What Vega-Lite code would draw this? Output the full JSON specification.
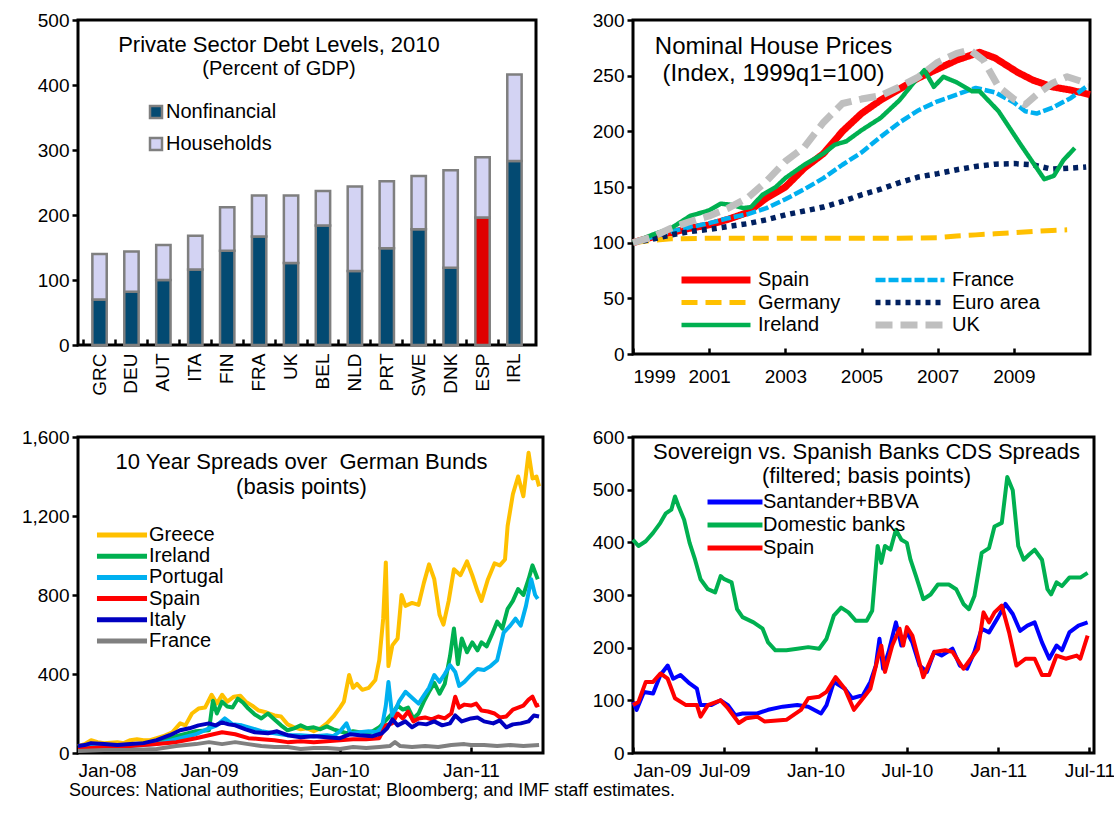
{
"$schema": "https://vega.github.io/schema/vega-lite/v6.json",
"background": "white",
"padding": {"left": 19, "top": 9, "right": 0, "bottom": 5},
"config": {
  "font": "Liberation Sans",
  "view": {"stroke": "black", "strokeWidth": 3},
  "axis": {"grid": false, "domain": false, "labelFontSize": 19, "labelColor": "black", "tickColor": "black", "tickWidth": 2.5, "tickSize": 6, "labelPadding": 3, "title": null, "labelFont": "Liberation Sans"},
  "legend": {"labelFontSize": 20, "labelColor": "black", "labelFont": "Liberation Sans", "orient": "none", "title": null, "padding": 0},
  "title": {"font": "Liberation Sans", "subtitleFont": "Liberation Sans", "color": "black", "subtitleColor": "black", "fontWeight": "normal", "subtitleFontWeight": "normal", "frame": "group"},
  "line": {"strokeJoin": "round"}
},
"title": {"text": "Sources:  National authorities; Eurostat; Bloomberg; and IMF staff estimates.", "orient": "bottom", "anchor": "start", "frame": "bounds", "fontSize": 18, "offset": 0, "dx": 49},
"columns": 2,
"bounds": "flush",
"spacing": {"row": 83, "column": 90},
"resolve": {"scale": {"color": "independent", "fill": "independent", "strokeDash": "independent", "strokeWidth": "independent", "x": "independent", "y": "independent"}},
"concat": [
{
  "width": 458, "height": 325,
  "title": {"text": "Private Sector Debt Levels, 2010", "subtitle": "(Percent of GDP)", "fontSize": 22, "subtitleFontSize": 20, "subtitlePadding": 2, "anchor": "middle", "dx": -28, "offset": -69},
  "data": {"values": [
    {"c": "GRC", "part": "Nonfinancial", "v": 70}, {"c": "GRC", "part": "Households", "v": 70},
    {"c": "DEU", "part": "Nonfinancial", "v": 82}, {"c": "DEU", "part": "Households", "v": 62},
    {"c": "AUT", "part": "Nonfinancial", "v": 100}, {"c": "AUT", "part": "Households", "v": 54},
    {"c": "ITA", "part": "Nonfinancial", "v": 116}, {"c": "ITA", "part": "Households", "v": 52},
    {"c": "FIN", "part": "Nonfinancial", "v": 145}, {"c": "FIN", "part": "Households", "v": 67},
    {"c": "FRA", "part": "Nonfinancial", "v": 167}, {"c": "FRA", "part": "Households", "v": 63},
    {"c": "UK", "part": "Nonfinancial", "v": 126}, {"c": "UK", "part": "Households", "v": 104},
    {"c": "BEL", "part": "Nonfinancial", "v": 184}, {"c": "BEL", "part": "Households", "v": 53},
    {"c": "NLD", "part": "Nonfinancial", "v": 114}, {"c": "NLD", "part": "Households", "v": 130},
    {"c": "PRT", "part": "Nonfinancial", "v": 149}, {"c": "PRT", "part": "Households", "v": 103},
    {"c": "SWE", "part": "Nonfinancial", "v": 178}, {"c": "SWE", "part": "Households", "v": 82},
    {"c": "DNK", "part": "Nonfinancial", "v": 119}, {"c": "DNK", "part": "Households", "v": 150},
    {"c": "ESP", "part": "Nonfinancial", "v": 196}, {"c": "ESP", "part": "Households", "v": 93},
    {"c": "IRL", "part": "Nonfinancial", "v": 283}, {"c": "IRL", "part": "Households", "v": 133}
  ]},
  "mark": {"type": "bar", "stroke": "#7f7f7f", "strokeWidth": 2.5},
  "encoding": {
    "x": {"field": "c", "type": "nominal", "sort": null, "scale": {"paddingInner": 0.55, "paddingOuter": 0.45}, "axis": {"labelAngle": 270, "tickSize": -6, "labelPadding": 14, "bandPosition": -0.61}},
    "y": {"field": "v", "type": "quantitative", "stack": "zero", "scale": {"domain": [0, 500], "nice": false}, "axis": {"values": [0, 100, 200, 300, 400, 500]}},
    "fill": {"field": "part", "type": "nominal", "condition": {"test": "datum.c === 'ESP' && datum.part === 'Nonfinancial'", "value": "#e00000"}, "scale": {"domain": ["Nonfinancial", "Households"], "range": ["#034a72", "#d3d3f3"]}, "legend": {"symbolType": "square", "symbolSize": 144, "symbolStrokeColor": "#7f7f7f", "symbolStrokeWidth": 2.5, "labelOffset": 0, "rowPadding": 10, "legendX": 68, "legendY": 82}},
    "order": {"field": "part", "sort": "descending"}
  }
},
{
  "width": 457, "height": 334,
  "title": {"text": "Nominal House Prices", "subtitle": "(Index, 1999q1=100)", "fontSize": 24, "subtitleFontSize": 24, "subtitlePadding": 3, "anchor": "middle", "dx": -88, "offset": -75},
  "data": {"values": [
    {"s":"Spain","t":1999,"v":100},{"s":"Spain","t":1999.5,"v":105},{"s":"Spain","t":2000,"v":109},{"s":"Spain","t":2000.5,"v":113},{"s":"Spain","t":2001,"v":116},{"s":"Spain","t":2001.5,"v":121},{"s":"Spain","t":2002,"v":127},{"s":"Spain","t":2002.5,"v":140},{"s":"Spain","t":2003,"v":150},{"s":"Spain","t":2003.5,"v":167},{"s":"Spain","t":2004,"v":180},{"s":"Spain","t":2004.5,"v":200},{"s":"Spain","t":2005,"v":216},{"s":"Spain","t":2005.5,"v":228},{"s":"Spain","t":2006,"v":238},{"s":"Spain","t":2006.5,"v":248},{"s":"Spain","t":2007,"v":256},{"s":"Spain","t":2007.5,"v":264},{"s":"Spain","t":2008.1,"v":271},{"s":"Spain","t":2008.5,"v":266},{"s":"Spain","t":2009.1,"v":253},{"s":"Spain","t":2009.5,"v":246},{"s":"Spain","t":2010,"v":240},{"s":"Spain","t":2010.5,"v":237},{"s":"Spain","t":2011,"v":233},
    {"s":"France","t":1999,"v":100},{"s":"France","t":1999.5,"v":105},{"s":"France","t":2000,"v":110},{"s":"France","t":2000.5,"v":114},{"s":"France","t":2001,"v":117.5},{"s":"France","t":2001.5,"v":122},{"s":"France","t":2002,"v":125.5},{"s":"France","t":2002.5,"v":131},{"s":"France","t":2003,"v":139},{"s":"France","t":2003.5,"v":148},{"s":"France","t":2004,"v":158},{"s":"France","t":2004.5,"v":170},{"s":"France","t":2005,"v":181},{"s":"France","t":2005.5,"v":195},{"s":"France","t":2006,"v":208},{"s":"France","t":2006.5,"v":219},{"s":"France","t":2007,"v":227},{"s":"France","t":2007.5,"v":233},{"s":"France","t":2008,"v":239},{"s":"France","t":2008.5,"v":235},{"s":"France","t":2009,"v":226},{"s":"France","t":2009.3,"v":218},{"s":"France","t":2009.6,"v":216},{"s":"France","t":2010,"v":221},{"s":"France","t":2010.5,"v":230},{"s":"France","t":2010.9,"v":240},
    {"s":"Germany","t":1999,"v":100},{"s":"Germany","t":1999.5,"v":102},{"s":"Germany","t":2000,"v":103.5},{"s":"Germany","t":2001,"v":104},{"s":"Germany","t":2002,"v":104},{"s":"Germany","t":2003,"v":104},{"s":"Germany","t":2004,"v":104},{"s":"Germany","t":2005,"v":104},{"s":"Germany","t":2006,"v":104},{"s":"Germany","t":2007,"v":104.5},{"s":"Germany","t":2007.5,"v":106},{"s":"Germany","t":2008,"v":107},{"s":"Germany","t":2008.5,"v":108},{"s":"Germany","t":2009,"v":109},{"s":"Germany","t":2009.5,"v":110},{"s":"Germany","t":2010,"v":111},{"s":"Germany","t":2010.4,"v":111.5},
    {"s":"Euro area","t":1999,"v":100},{"s":"Euro area","t":1999.5,"v":103},{"s":"Euro area","t":2000,"v":107},{"s":"Euro area","t":2000.5,"v":110},{"s":"Euro area","t":2001,"v":112},{"s":"Euro area","t":2001.5,"v":114.5},{"s":"Euro area","t":2002,"v":117},{"s":"Euro area","t":2002.5,"v":120.5},{"s":"Euro area","t":2003,"v":125},{"s":"Euro area","t":2003.5,"v":128.5},{"s":"Euro area","t":2004,"v":132},{"s":"Euro area","t":2004.5,"v":137},{"s":"Euro area","t":2005,"v":143},{"s":"Euro area","t":2005.5,"v":148},{"s":"Euro area","t":2006,"v":154},{"s":"Euro area","t":2006.5,"v":159},{"s":"Euro area","t":2007,"v":162},{"s":"Euro area","t":2007.5,"v":165.5},{"s":"Euro area","t":2008,"v":168.5},{"s":"Euro area","t":2008.5,"v":170.5},{"s":"Euro area","t":2009,"v":171},{"s":"Euro area","t":2009.5,"v":170},{"s":"Euro area","t":2010,"v":166},{"s":"Euro area","t":2010.5,"v":167},{"s":"Euro area","t":2010.9,"v":168},
    {"s":"Ireland","t":1999,"v":100},{"s":"Ireland","t":1999.5,"v":107},{"s":"Ireland","t":2000,"v":113},{"s":"Ireland","t":2000.5,"v":124},{"s":"Ireland","t":2001,"v":129},{"s":"Ireland","t":2001.3,"v":135},{"s":"Ireland","t":2001.6,"v":134},{"s":"Ireland","t":2001.9,"v":131},{"s":"Ireland","t":2002.1,"v":132},{"s":"Ireland","t":2002.4,"v":143},{"s":"Ireland","t":2002.75,"v":150},{"s":"Ireland","t":2003,"v":158},{"s":"Ireland","t":2003.5,"v":170},{"s":"Ireland","t":2004,"v":180},{"s":"Ireland","t":2004.3,"v":188},{"s":"Ireland","t":2004.6,"v":191},{"s":"Ireland","t":2005,"v":201},{"s":"Ireland","t":2005.5,"v":212},{"s":"Ireland","t":2006,"v":228},{"s":"Ireland","t":2006.4,"v":245},{"s":"Ireland","t":2006.65,"v":255},{"s":"Ireland","t":2006.9,"v":240},{"s":"Ireland","t":2007.15,"v":249},{"s":"Ireland","t":2007.5,"v":244},{"s":"Ireland","t":2007.9,"v":236},{"s":"Ireland","t":2008.1,"v":236},{"s":"Ireland","t":2008.6,"v":218},{"s":"Ireland","t":2009.2,"v":187},{"s":"Ireland","t":2009.5,"v":172},{"s":"Ireland","t":2009.8,"v":157},{"s":"Ireland","t":2010.05,"v":160},{"s":"Ireland","t":2010.3,"v":174},{"s":"Ireland","t":2010.6,"v":185},
    {"s":"UK","t":1999,"v":100},{"s":"UK","t":1999.5,"v":105},{"s":"UK","t":2000,"v":113},{"s":"UK","t":2000.5,"v":119},{"s":"UK","t":2001,"v":124},{"s":"UK","t":2001.5,"v":131},{"s":"UK","t":2002,"v":140},{"s":"UK","t":2002.5,"v":155},{"s":"UK","t":2003,"v":173},{"s":"UK","t":2003.5,"v":186},{"s":"UK","t":2004,"v":208},{"s":"UK","t":2004.5,"v":225},{"s":"UK","t":2005,"v":229},{"s":"UK","t":2005.5,"v":232},{"s":"UK","t":2006,"v":240},{"s":"UK","t":2006.5,"v":249},{"s":"UK","t":2007,"v":262},{"s":"UK","t":2007.5,"v":270},{"s":"UK","t":2007.85,"v":273},{"s":"UK","t":2008.2,"v":264},{"s":"UK","t":2008.6,"v":240},{"s":"UK","t":2009,"v":229},{"s":"UK","t":2009.3,"v":224},{"s":"UK","t":2009.6,"v":233},{"s":"UK","t":2010,"v":243},{"s":"UK","t":2010.4,"v":249},{"s":"UK","t":2010.95,"v":243}
  ]},
  "mark": {"type": "line"},
  "encoding": {
    "x": {"field": "t", "type": "quantitative", "scale": {"domain": [1999, 2011], "nice": false}, "axis": {"values": [1999, 2001, 2003, 2005, 2007, 2009], "format": "d", "tickSize": -6, "labelPadding": 19}},
    "y": {"field": "v", "type": "quantitative", "scale": {"domain": [0, 300], "nice": false}, "axis": {"values": [0, 50, 100, 150, 200, 250, 300]}},
    "color": {"field": "s", "type": "nominal", "sort": null, "scale": {"domain": ["Spain", "Germany", "Ireland", "France", "Euro area", "UK"], "range": ["#ff0000", "#ffc000", "#00b050", "#00b0f0", "#002060", "#bfbfbf"]}, "legend": {"columns": 2, "columnPadding": 31, "rowPadding": 2.5, "symbolType": "M-5.75,0H5.75", "symbolSize": 144, "labelOffset": 32, "legendX": 73, "legendY": 250}},
    "strokeDash": {"field": "s", "type": "nominal", "sort": null, "scale": {"domain": ["Spain", "Germany", "Ireland", "France", "Euro area", "UK"], "range": [[1, 0], [16, 8], [1, 0], [10, 3], [5, 5], [17, 8]]}},
    "strokeWidth": {"field": "s", "type": "nominal", "sort": null, "scale": {"type": "ordinal", "domain": ["Spain", "Germany", "Ireland", "France", "Euro area", "UK"], "range": [7, 5, 4.5, 4.5, 5.5, 7]}}
  }
},
{
  "width": 465, "height": 316,
  "title": {"text": "10 Year Spreads over \u00a0German Bunds", "subtitle": "(basis points)", "fontSize": 22, "subtitleFontSize": 22, "subtitlePadding": 3, "anchor": "middle", "dx": -9, "offset": -71},
  "data": {"values": [
    {"s":"Greece","t":2008.0,"v":35},{"s":"Greece","t":2008.05,"v":45},{"s":"Greece","t":2008.1,"v":65},{"s":"Greece","t":2008.15,"v":55},{"s":"Greece","t":2008.2,"v":50},{"s":"Greece","t":2008.3,"v":55},{"s":"Greece","t":2008.35,"v":50},{"s":"Greece","t":2008.4,"v":65},{"s":"Greece","t":2008.45,"v":70},{"s":"Greece","t":2008.5,"v":65},{"s":"Greece","t":2008.55,"v":65},{"s":"Greece","t":2008.6,"v":75},{"s":"Greece","t":2008.65,"v":85},{"s":"Greece","t":2008.72,"v":105},{"s":"Greece","t":2008.78,"v":150},{"s":"Greece","t":2008.82,"v":140},{"s":"Greece","t":2008.87,"v":200},{"s":"Greece","t":2008.92,"v":225},{"s":"Greece","t":2008.97,"v":230},{"s":"Greece","t":2009.02,"v":295},{"s":"Greece","t":2009.06,"v":250},{"s":"Greece","t":2009.1,"v":295},{"s":"Greece","t":2009.14,"v":260},{"s":"Greece","t":2009.19,"v":285},{"s":"Greece","t":2009.24,"v":290},{"s":"Greece","t":2009.28,"v":260},{"s":"Greece","t":2009.33,"v":240},{"s":"Greece","t":2009.38,"v":215},{"s":"Greece","t":2009.44,"v":205},{"s":"Greece","t":2009.5,"v":190},{"s":"Greece","t":2009.55,"v":185},{"s":"Greece","t":2009.6,"v":145},{"s":"Greece","t":2009.65,"v":130},{"s":"Greece","t":2009.7,"v":120},{"s":"Greece","t":2009.75,"v":125},{"s":"Greece","t":2009.8,"v":110},{"s":"Greece","t":2009.85,"v":125},{"s":"Greece","t":2009.9,"v":150},{"s":"Greece","t":2009.95,"v":185},{"s":"Greece","t":2010.0,"v":230},{"s":"Greece","t":2010.03,"v":260},{"s":"Greece","t":2010.07,"v":395},{"s":"Greece","t":2010.1,"v":330},{"s":"Greece","t":2010.13,"v":350},{"s":"Greece","t":2010.17,"v":320},{"s":"Greece","t":2010.22,"v":330},{"s":"Greece","t":2010.27,"v":370},{"s":"Greece","t":2010.3,"v":470},{"s":"Greece","t":2010.33,"v":680},{"s":"Greece","t":2010.35,"v":965},{"s":"Greece","t":2010.37,"v":440},{"s":"Greece","t":2010.4,"v":545},{"s":"Greece","t":2010.44,"v":580},{"s":"Greece","t":2010.47,"v":800},{"s":"Greece","t":2010.5,"v":745},{"s":"Greece","t":2010.55,"v":760},{"s":"Greece","t":2010.6,"v":750},{"s":"Greece","t":2010.64,"v":860},{"s":"Greece","t":2010.68,"v":955},{"s":"Greece","t":2010.72,"v":880},{"s":"Greece","t":2010.76,"v":700},{"s":"Greece","t":2010.79,"v":650},{"s":"Greece","t":2010.83,"v":770},{"s":"Greece","t":2010.87,"v":930},{"s":"Greece","t":2010.92,"v":900},{"s":"Greece","t":2010.97,"v":970},{"s":"Greece","t":2011.01,"v":900},{"s":"Greece","t":2011.05,"v":820},{"s":"Greece","t":2011.08,"v":770},{"s":"Greece","t":2011.13,"v":880},{"s":"Greece","t":2011.18,"v":960},{"s":"Greece","t":2011.22,"v":950},{"s":"Greece","t":2011.26,"v":980},{"s":"Greece","t":2011.28,"v":1150},{"s":"Greece","t":2011.32,"v":1310},{"s":"Greece","t":2011.36,"v":1400},{"s":"Greece","t":2011.4,"v":1300},{"s":"Greece","t":2011.44,"v":1520},{"s":"Greece","t":2011.47,"v":1390},{"s":"Greece","t":2011.5,"v":1400},{"s":"Greece","t":2011.52,"v":1350},
    {"s":"Ireland","t":2008.0,"v":30},{"s":"Ireland","t":2008.2,"v":35},{"s":"Ireland","t":2008.4,"v":40},{"s":"Ireland","t":2008.6,"v":55},{"s":"Ireland","t":2008.75,"v":85},{"s":"Ireland","t":2008.9,"v":110},{"s":"Ireland","t":2009.0,"v":115},{"s":"Ireland","t":2009.03,"v":265},{"s":"Ireland","t":2009.06,"v":200},{"s":"Ireland","t":2009.1,"v":260},{"s":"Ireland","t":2009.14,"v":235},{"s":"Ireland","t":2009.18,"v":230},{"s":"Ireland","t":2009.22,"v":275},{"s":"Ireland","t":2009.26,"v":255},{"s":"Ireland","t":2009.3,"v":225},{"s":"Ireland","t":2009.35,"v":195},{"s":"Ireland","t":2009.4,"v":175},{"s":"Ireland","t":2009.45,"v":200},{"s":"Ireland","t":2009.5,"v":170},{"s":"Ireland","t":2009.55,"v":140},{"s":"Ireland","t":2009.6,"v":115},{"s":"Ireland","t":2009.65,"v":125},{"s":"Ireland","t":2009.7,"v":140},{"s":"Ireland","t":2009.75,"v":125},{"s":"Ireland","t":2009.8,"v":130},{"s":"Ireland","t":2009.85,"v":120},{"s":"Ireland","t":2009.9,"v":135},{"s":"Ireland","t":2009.95,"v":120},{"s":"Ireland","t":2010.0,"v":110},{"s":"Ireland","t":2010.05,"v":100},{"s":"Ireland","t":2010.1,"v":110},{"s":"Ireland","t":2010.15,"v":105},{"s":"Ireland","t":2010.2,"v":100},{"s":"Ireland","t":2010.25,"v":110},{"s":"Ireland","t":2010.3,"v":130},{"s":"Ireland","t":2010.35,"v":165},{"s":"Ireland","t":2010.4,"v":200},{"s":"Ireland","t":2010.44,"v":240},{"s":"Ireland","t":2010.48,"v":220},{"s":"Ireland","t":2010.52,"v":230},{"s":"Ireland","t":2010.56,"v":175},{"s":"Ireland","t":2010.6,"v":200},{"s":"Ireland","t":2010.64,"v":260},{"s":"Ireland","t":2010.68,"v":310},{"s":"Ireland","t":2010.72,"v":355},{"s":"Ireland","t":2010.76,"v":300},{"s":"Ireland","t":2010.8,"v":350},{"s":"Ireland","t":2010.84,"v":490},{"s":"Ireland","t":2010.87,"v":630},{"s":"Ireland","t":2010.9,"v":450},{"s":"Ireland","t":2010.93,"v":580},{"s":"Ireland","t":2010.97,"v":510},{"s":"Ireland","t":2011.01,"v":560},{"s":"Ireland","t":2011.05,"v":520},{"s":"Ireland","t":2011.08,"v":560},{"s":"Ireland","t":2011.12,"v":540},{"s":"Ireland","t":2011.16,"v":600},{"s":"Ireland","t":2011.2,"v":665},{"s":"Ireland","t":2011.24,"v":630},{"s":"Ireland","t":2011.28,"v":730},{"s":"Ireland","t":2011.32,"v":770},{"s":"Ireland","t":2011.36,"v":830},{"s":"Ireland","t":2011.4,"v":800},{"s":"Ireland","t":2011.44,"v":880},{"s":"Ireland","t":2011.47,"v":950},{"s":"Ireland","t":2011.51,"v":880},
    {"s":"Portugal","t":2008.0,"v":30},{"s":"Portugal","t":2008.2,"v":35},{"s":"Portugal","t":2008.4,"v":35},{"s":"Portugal","t":2008.6,"v":45},{"s":"Portugal","t":2008.75,"v":70},{"s":"Portugal","t":2008.9,"v":95},{"s":"Portugal","t":2009.0,"v":125},{"s":"Portugal","t":2009.06,"v":140},{"s":"Portugal","t":2009.12,"v":175},{"s":"Portugal","t":2009.18,"v":145},{"s":"Portugal","t":2009.25,"v":140},{"s":"Portugal","t":2009.33,"v":125},{"s":"Portugal","t":2009.4,"v":110},{"s":"Portugal","t":2009.5,"v":100},{"s":"Portugal","t":2009.6,"v":90},{"s":"Portugal","t":2009.7,"v":90},{"s":"Portugal","t":2009.8,"v":85},{"s":"Portugal","t":2009.9,"v":90},{"s":"Portugal","t":2009.95,"v":85},{"s":"Portugal","t":2010.0,"v":110},{"s":"Portugal","t":2010.05,"v":150},{"s":"Portugal","t":2010.08,"v":100},{"s":"Portugal","t":2010.15,"v":105},{"s":"Portugal","t":2010.22,"v":110},{"s":"Portugal","t":2010.28,"v":105},{"s":"Portugal","t":2010.32,"v":130},{"s":"Portugal","t":2010.35,"v":240},{"s":"Portugal","t":2010.37,"v":360},{"s":"Portugal","t":2010.4,"v":180},{"s":"Portugal","t":2010.45,"v":260},{"s":"Portugal","t":2010.5,"v":310},{"s":"Portugal","t":2010.55,"v":280},{"s":"Portugal","t":2010.6,"v":250},{"s":"Portugal","t":2010.64,"v":290},{"s":"Portugal","t":2010.68,"v":330},{"s":"Portugal","t":2010.72,"v":395},{"s":"Portugal","t":2010.76,"v":360},{"s":"Portugal","t":2010.8,"v":400},{"s":"Portugal","t":2010.84,"v":445},{"s":"Portugal","t":2010.88,"v":410},{"s":"Portugal","t":2010.91,"v":340},{"s":"Portugal","t":2010.95,"v":360},{"s":"Portugal","t":2011.0,"v":395},{"s":"Portugal","t":2011.05,"v":425},{"s":"Portugal","t":2011.1,"v":420},{"s":"Portugal","t":2011.15,"v":440},{"s":"Portugal","t":2011.2,"v":470},{"s":"Portugal","t":2011.25,"v":610},{"s":"Portugal","t":2011.3,"v":645},{"s":"Portugal","t":2011.34,"v":680},{"s":"Portugal","t":2011.38,"v":645},{"s":"Portugal","t":2011.42,"v":745},{"s":"Portugal","t":2011.46,"v":880},{"s":"Portugal","t":2011.49,"v":800},{"s":"Portugal","t":2011.51,"v":780},
    {"s":"Spain","t":2008.0,"v":20},{"s":"Spain","t":2008.2,"v":30},{"s":"Spain","t":2008.4,"v":35},{"s":"Spain","t":2008.6,"v":45},{"s":"Spain","t":2008.75,"v":55},{"s":"Spain","t":2008.9,"v":75},{"s":"Spain","t":2009.0,"v":90},{"s":"Spain","t":2009.1,"v":105},{"s":"Spain","t":2009.2,"v":95},{"s":"Spain","t":2009.3,"v":75},{"s":"Spain","t":2009.4,"v":70},{"s":"Spain","t":2009.5,"v":65},{"s":"Spain","t":2009.6,"v":55},{"s":"Spain","t":2009.7,"v":60},{"s":"Spain","t":2009.8,"v":55},{"s":"Spain","t":2009.9,"v":60},{"s":"Spain","t":2010.0,"v":65},{"s":"Spain","t":2010.1,"v":70},{"s":"Spain","t":2010.2,"v":70},{"s":"Spain","t":2010.3,"v":75},{"s":"Spain","t":2010.35,"v":140},{"s":"Spain","t":2010.4,"v":150},{"s":"Spain","t":2010.44,"v":200},{"s":"Spain","t":2010.48,"v":175},{"s":"Spain","t":2010.52,"v":210},{"s":"Spain","t":2010.56,"v":160},{"s":"Spain","t":2010.6,"v":175},{"s":"Spain","t":2010.65,"v":180},{"s":"Spain","t":2010.7,"v":170},{"s":"Spain","t":2010.75,"v":185},{"s":"Spain","t":2010.8,"v":175},{"s":"Spain","t":2010.85,"v":200},{"s":"Spain","t":2010.88,"v":285},{"s":"Spain","t":2010.91,"v":230},{"s":"Spain","t":2010.95,"v":245},{"s":"Spain","t":2011.0,"v":240},{"s":"Spain","t":2011.04,"v":250},{"s":"Spain","t":2011.08,"v":215},{"s":"Spain","t":2011.13,"v":210},{"s":"Spain","t":2011.18,"v":200},{"s":"Spain","t":2011.22,"v":180},{"s":"Spain","t":2011.27,"v":185},{"s":"Spain","t":2011.32,"v":220},{"s":"Spain","t":2011.36,"v":230},{"s":"Spain","t":2011.4,"v":240},{"s":"Spain","t":2011.44,"v":270},{"s":"Spain","t":2011.47,"v":285},{"s":"Spain","t":2011.5,"v":240},{"s":"Spain","t":2011.52,"v":245},
    {"s":"Italy","t":2008.0,"v":35},{"s":"Italy","t":2008.05,"v":40},{"s":"Italy","t":2008.1,"v":50},{"s":"Italy","t":2008.2,"v":45},{"s":"Italy","t":2008.3,"v":40},{"s":"Italy","t":2008.4,"v":45},{"s":"Italy","t":2008.5,"v":50},{"s":"Italy","t":2008.6,"v":65},{"s":"Italy","t":2008.7,"v":90},{"s":"Italy","t":2008.78,"v":115},{"s":"Italy","t":2008.85,"v":125},{"s":"Italy","t":2008.92,"v":140},{"s":"Italy","t":2009.0,"v":150},{"s":"Italy","t":2009.05,"v":140},{"s":"Italy","t":2009.1,"v":155},{"s":"Italy","t":2009.15,"v":145},{"s":"Italy","t":2009.2,"v":140},{"s":"Italy","t":2009.28,"v":120},{"s":"Italy","t":2009.35,"v":105},{"s":"Italy","t":2009.45,"v":100},{"s":"Italy","t":2009.52,"v":110},{"s":"Italy","t":2009.6,"v":90},{"s":"Italy","t":2009.7,"v":80},{"s":"Italy","t":2009.8,"v":85},{"s":"Italy","t":2009.9,"v":80},{"s":"Italy","t":2010.0,"v":75},{"s":"Italy","t":2010.08,"v":95},{"s":"Italy","t":2010.15,"v":90},{"s":"Italy","t":2010.25,"v":85},{"s":"Italy","t":2010.32,"v":100},{"s":"Italy","t":2010.36,"v":125},{"s":"Italy","t":2010.4,"v":170},{"s":"Italy","t":2010.44,"v":140},{"s":"Italy","t":2010.5,"v":160},{"s":"Italy","t":2010.55,"v":130},{"s":"Italy","t":2010.6,"v":150},{"s":"Italy","t":2010.66,"v":145},{"s":"Italy","t":2010.72,"v":160},{"s":"Italy","t":2010.78,"v":140},{"s":"Italy","t":2010.84,"v":150},{"s":"Italy","t":2010.88,"v":190},{"s":"Italy","t":2010.93,"v":160},{"s":"Italy","t":2011.0,"v":175},{"s":"Italy","t":2011.05,"v":180},{"s":"Italy","t":2011.1,"v":160},{"s":"Italy","t":2011.17,"v":150},{"s":"Italy","t":2011.22,"v":165},{"s":"Italy","t":2011.27,"v":130},{"s":"Italy","t":2011.32,"v":145},{"s":"Italy","t":2011.38,"v":150},{"s":"Italy","t":2011.44,"v":160},{"s":"Italy","t":2011.48,"v":190},{"s":"Italy","t":2011.52,"v":185},
    {"s":"France","t":2008.0,"v":10},{"s":"France","t":2008.2,"v":15},{"s":"France","t":2008.4,"v":15},{"s":"France","t":2008.6,"v":20},{"s":"France","t":2008.75,"v":35},{"s":"France","t":2008.9,"v":45},{"s":"France","t":2009.0,"v":55},{"s":"France","t":2009.1,"v":45},{"s":"France","t":2009.2,"v":55},{"s":"France","t":2009.3,"v":45},{"s":"France","t":2009.4,"v":35},{"s":"France","t":2009.5,"v":30},{"s":"France","t":2009.6,"v":30},{"s":"France","t":2009.7,"v":20},{"s":"France","t":2009.8,"v":25},{"s":"France","t":2009.9,"v":25},{"s":"France","t":2010.0,"v":20},{"s":"France","t":2010.1,"v":30},{"s":"France","t":2010.2,"v":25},{"s":"France","t":2010.3,"v":30},{"s":"France","t":2010.38,"v":35},{"s":"France","t":2010.42,"v":55},{"s":"France","t":2010.46,"v":35},{"s":"France","t":2010.55,"v":30},{"s":"France","t":2010.65,"v":35},{"s":"France","t":2010.75,"v":30},{"s":"France","t":2010.85,"v":40},{"s":"France","t":2010.95,"v":45},{"s":"France","t":2011.0,"v":40},{"s":"France","t":2011.1,"v":40},{"s":"France","t":2011.2,"v":35},{"s":"France","t":2011.3,"v":40},{"s":"France","t":2011.4,"v":35},{"s":"France","t":2011.52,"v":40}
  ]},
  "mark": {"type": "line", "strokeWidth": 4},
  "encoding": {
    "x": {"field": "t", "type": "quantitative", "scale": {"domain": [2008, 2011.55], "nice": false}, "axis": {"values": [2008, 2009, 2010, 2011], "labelExpr": "'Jan-' + slice(toString(datum.value), 2)", "tickSize": -6, "labelPadding": 14}},
    "y": {"field": "v", "type": "quantitative", "scale": {"domain": [0, 1600], "nice": false}, "axis": {"values": [0, 400, 800, 1200, 1600], "format": ",d"}},
    "color": {"field": "s", "type": "nominal", "sort": null, "scale": {"domain": ["Greece", "Ireland", "Portugal", "Spain", "Italy", "France"], "range": ["#ffc000", "#00b050", "#00b0f0", "#ff0000", "#0000c0", "#808080"]}, "legend": {"symbolType": "M-4.17,0H4.17", "symbolSize": 144, "symbolStrokeWidth": 5, "labelOffset": 17, "rowPadding": 1.2, "legendX": 34, "legendY": 88}}
  }
},
{
  "width": 461, "height": 316,
  "title": {"text": "Sovereign vs. Spanish Banks CDS Spreads", "subtitle": "(filtered; basis points)", "fontSize": 22, "subtitleFontSize": 22, "subtitlePadding": 2, "anchor": "middle", "dx": 3, "offset": -60},
  "data": {"values": [
    {"s":"Santander+BBVA","t":2009.0,"v":97},{"s":"Santander+BBVA","t":2009.02,"v":82},{"s":"Santander+BBVA","t":2009.06,"v":116},{"s":"Santander+BBVA","t":2009.11,"v":113},{"s":"Santander+BBVA","t":2009.15,"v":148},{"s":"Santander+BBVA","t":2009.19,"v":166},{"s":"Santander+BBVA","t":2009.22,"v":141},{"s":"Santander+BBVA","t":2009.26,"v":148},{"s":"Santander+BBVA","t":2009.31,"v":132},{"s":"Santander+BBVA","t":2009.35,"v":122},{"s":"Santander+BBVA","t":2009.37,"v":91},{"s":"Santander+BBVA","t":2009.43,"v":91},{"s":"Santander+BBVA","t":2009.48,"v":100},{"s":"Santander+BBVA","t":2009.52,"v":91},{"s":"Santander+BBVA","t":2009.56,"v":72},{"s":"Santander+BBVA","t":2009.6,"v":75},{"s":"Santander+BBVA","t":2009.68,"v":75},{"s":"Santander+BBVA","t":2009.74,"v":82},{"s":"Santander+BBVA","t":2009.82,"v":88},{"s":"Santander+BBVA","t":2009.9,"v":91},{"s":"Santander+BBVA","t":2009.96,"v":88},{"s":"Santander+BBVA","t":2010.03,"v":75},{"s":"Santander+BBVA","t":2010.06,"v":91},{"s":"Santander+BBVA","t":2010.1,"v":135},{"s":"Santander+BBVA","t":2010.16,"v":122},{"s":"Santander+BBVA","t":2010.2,"v":104},{"s":"Santander+BBVA","t":2010.26,"v":110},{"s":"Santander+BBVA","t":2010.3,"v":135},{"s":"Santander+BBVA","t":2010.33,"v":166},{"s":"Santander+BBVA","t":2010.35,"v":217},{"s":"Santander+BBVA","t":2010.37,"v":160},{"s":"Santander+BBVA","t":2010.4,"v":192},{"s":"Santander+BBVA","t":2010.44,"v":248},{"s":"Santander+BBVA","t":2010.47,"v":204},{"s":"Santander+BBVA","t":2010.5,"v":229},{"s":"Santander+BBVA","t":2010.53,"v":210},{"s":"Santander+BBVA","t":2010.57,"v":166},{"s":"Santander+BBVA","t":2010.61,"v":154},{"s":"Santander+BBVA","t":2010.65,"v":192},{"s":"Santander+BBVA","t":2010.69,"v":185},{"s":"Santander+BBVA","t":2010.75,"v":198},{"s":"Santander+BBVA","t":2010.79,"v":166},{"s":"Santander+BBVA","t":2010.83,"v":160},{"s":"Santander+BBVA","t":2010.87,"v":192},{"s":"Santander+BBVA","t":2010.91,"v":236},{"s":"Santander+BBVA","t":2010.95,"v":229},{"s":"Santander+BBVA","t":2011.0,"v":258},{"s":"Santander+BBVA","t":2011.04,"v":283},{"s":"Santander+BBVA","t":2011.08,"v":264},{"s":"Santander+BBVA","t":2011.12,"v":232},{"s":"Santander+BBVA","t":2011.16,"v":242},{"s":"Santander+BBVA","t":2011.2,"v":248},{"s":"Santander+BBVA","t":2011.24,"v":210},{"s":"Santander+BBVA","t":2011.28,"v":179},{"s":"Santander+BBVA","t":2011.32,"v":204},{"s":"Santander+BBVA","t":2011.35,"v":195},{"s":"Santander+BBVA","t":2011.39,"v":229},{"s":"Santander+BBVA","t":2011.44,"v":242},{"s":"Santander+BBVA","t":2011.49,"v":248},
    {"s":"Domestic banks","t":2009.0,"v":405},{"s":"Domestic banks","t":2009.03,"v":393},{"s":"Domestic banks","t":2009.07,"v":402},{"s":"Domestic banks","t":2009.11,"v":418},{"s":"Domestic banks","t":2009.15,"v":437},{"s":"Domestic banks","t":2009.18,"v":455},{"s":"Domestic banks","t":2009.21,"v":462},{"s":"Domestic banks","t":2009.23,"v":487},{"s":"Domestic banks","t":2009.25,"v":468},{"s":"Domestic banks","t":2009.28,"v":443},{"s":"Domestic banks","t":2009.31,"v":399},{"s":"Domestic banks","t":2009.34,"v":367},{"s":"Domestic banks","t":2009.37,"v":330},{"s":"Domestic banks","t":2009.41,"v":311},{"s":"Domestic banks","t":2009.45,"v":305},{"s":"Domestic banks","t":2009.48,"v":336},{"s":"Domestic banks","t":2009.5,"v":330},{"s":"Domestic banks","t":2009.54,"v":324},{"s":"Domestic banks","t":2009.57,"v":273},{"s":"Domestic banks","t":2009.6,"v":258},{"s":"Domestic banks","t":2009.66,"v":248},{"s":"Domestic banks","t":2009.71,"v":236},{"s":"Domestic banks","t":2009.74,"v":210},{"s":"Domestic banks","t":2009.78,"v":195},{"s":"Domestic banks","t":2009.84,"v":195},{"s":"Domestic banks","t":2009.9,"v":198},{"s":"Domestic banks","t":2009.96,"v":201},{"s":"Domestic banks","t":2010.02,"v":198},{"s":"Domestic banks","t":2010.06,"v":217},{"s":"Domestic banks","t":2010.1,"v":261},{"s":"Domestic banks","t":2010.14,"v":276},{"s":"Domestic banks","t":2010.18,"v":267},{"s":"Domestic banks","t":2010.22,"v":251},{"s":"Domestic banks","t":2010.28,"v":251},{"s":"Domestic banks","t":2010.31,"v":270},{"s":"Domestic banks","t":2010.34,"v":393},{"s":"Domestic banks","t":2010.36,"v":361},{"s":"Domestic banks","t":2010.38,"v":393},{"s":"Domestic banks","t":2010.41,"v":386},{"s":"Domestic banks","t":2010.44,"v":424},{"s":"Domestic banks","t":2010.47,"v":405},{"s":"Domestic banks","t":2010.5,"v":399},{"s":"Domestic banks","t":2010.52,"v":367},{"s":"Domestic banks","t":2010.55,"v":336},{"s":"Domestic banks","t":2010.59,"v":292},{"s":"Domestic banks","t":2010.63,"v":301},{"s":"Domestic banks","t":2010.67,"v":320},{"s":"Domestic banks","t":2010.73,"v":320},{"s":"Domestic banks","t":2010.77,"v":311},{"s":"Domestic banks","t":2010.81,"v":283},{"s":"Domestic banks","t":2010.84,"v":273},{"s":"Domestic banks","t":2010.87,"v":298},{"s":"Domestic banks","t":2010.91,"v":380},{"s":"Domestic banks","t":2010.95,"v":389},{"s":"Domestic banks","t":2010.98,"v":430},{"s":"Domestic banks","t":2011.02,"v":437},{"s":"Domestic banks","t":2011.05,"v":524},{"s":"Domestic banks","t":2011.08,"v":499},{"s":"Domestic banks","t":2011.11,"v":393},{"s":"Domestic banks","t":2011.14,"v":367},{"s":"Domestic banks","t":2011.17,"v":377},{"s":"Domestic banks","t":2011.2,"v":386},{"s":"Domestic banks","t":2011.24,"v":367},{"s":"Domestic banks","t":2011.27,"v":311},{"s":"Domestic banks","t":2011.29,"v":301},{"s":"Domestic banks","t":2011.32,"v":324},{"s":"Domestic banks","t":2011.35,"v":317},{"s":"Domestic banks","t":2011.39,"v":333},{"s":"Domestic banks","t":2011.45,"v":333},{"s":"Domestic banks","t":2011.49,"v":342},
    {"s":"Spain","t":2009.0,"v":91},{"s":"Spain","t":2009.03,"v":97},{"s":"Spain","t":2009.07,"v":135},{"s":"Spain","t":2009.11,"v":135},{"s":"Spain","t":2009.15,"v":151},{"s":"Spain","t":2009.19,"v":141},{"s":"Spain","t":2009.23,"v":104},{"s":"Spain","t":2009.29,"v":91},{"s":"Spain","t":2009.35,"v":91},{"s":"Spain","t":2009.37,"v":69},{"s":"Spain","t":2009.41,"v":91},{"s":"Spain","t":2009.48,"v":100},{"s":"Spain","t":2009.52,"v":85},{"s":"Spain","t":2009.58,"v":57},{"s":"Spain","t":2009.62,"v":66},{"s":"Spain","t":2009.68,"v":69},{"s":"Spain","t":2009.72,"v":60},{"s":"Spain","t":2009.84,"v":63},{"s":"Spain","t":2009.92,"v":82},{"s":"Spain","t":2009.96,"v":104},{"s":"Spain","t":2010.02,"v":107},{"s":"Spain","t":2010.06,"v":116},{"s":"Spain","t":2010.11,"v":144},{"s":"Spain","t":2010.16,"v":122},{"s":"Spain","t":2010.21,"v":82},{"s":"Spain","t":2010.26,"v":104},{"s":"Spain","t":2010.3,"v":122},{"s":"Spain","t":2010.34,"v":179},{"s":"Spain","t":2010.36,"v":204},{"s":"Spain","t":2010.38,"v":154},{"s":"Spain","t":2010.42,"v":204},{"s":"Spain","t":2010.46,"v":236},{"s":"Spain","t":2010.48,"v":204},{"s":"Spain","t":2010.5,"v":239},{"s":"Spain","t":2010.53,"v":223},{"s":"Spain","t":2010.59,"v":144},{"s":"Spain","t":2010.65,"v":192},{"s":"Spain","t":2010.71,"v":195},{"s":"Spain","t":2010.75,"v":192},{"s":"Spain","t":2010.81,"v":160},{"s":"Spain","t":2010.85,"v":179},{"s":"Spain","t":2010.89,"v":198},{"s":"Spain","t":2010.92,"v":267},{"s":"Spain","t":2010.95,"v":248},{"s":"Spain","t":2010.98,"v":267},{"s":"Spain","t":2011.02,"v":280},{"s":"Spain","t":2011.06,"v":229},{"s":"Spain","t":2011.1,"v":166},{"s":"Spain","t":2011.15,"v":179},{"s":"Spain","t":2011.2,"v":179},{"s":"Spain","t":2011.24,"v":148},{"s":"Spain","t":2011.28,"v":148},{"s":"Spain","t":2011.32,"v":185},{"s":"Spain","t":2011.37,"v":179},{"s":"Spain","t":2011.43,"v":185},{"s":"Spain","t":2011.45,"v":179},{"s":"Spain","t":2011.49,"v":223}
  ]},
  "mark": {"type": "line", "strokeWidth": 4},
  "encoding": {
    "x": {"field": "t", "type": "quantitative", "scale": {"domain": [2009, 2011.525], "nice": false}, "axis": {"values": [2009, 2009.5, 2010, 2010.5, 2011, 2011.5], "labelExpr": "(datum.value % 1 == 0 ? 'Jan-' : 'Jul-') + slice(toString(floor(datum.value)), 2)", "tickSize": -6, "labelPadding": 14}},
    "y": {"field": "v", "type": "quantitative", "scale": {"domain": [0, 600], "nice": false}, "axis": {"values": [0, 100, 200, 300, 400, 500, 600]}},
    "color": {"field": "s", "type": "nominal", "sort": null, "scale": {"domain": ["Santander+BBVA", "Domestic banks", "Spain"], "range": ["#0000ff", "#00b050", "#ff0000"]}, "legend": {"symbolType": "M-4.58,0H4.58", "symbolSize": 144, "symbolStrokeWidth": 5, "labelOffset": 18, "rowPadding": 3, "legendX": 92, "legendY": 55}}
  }
}
]
}
